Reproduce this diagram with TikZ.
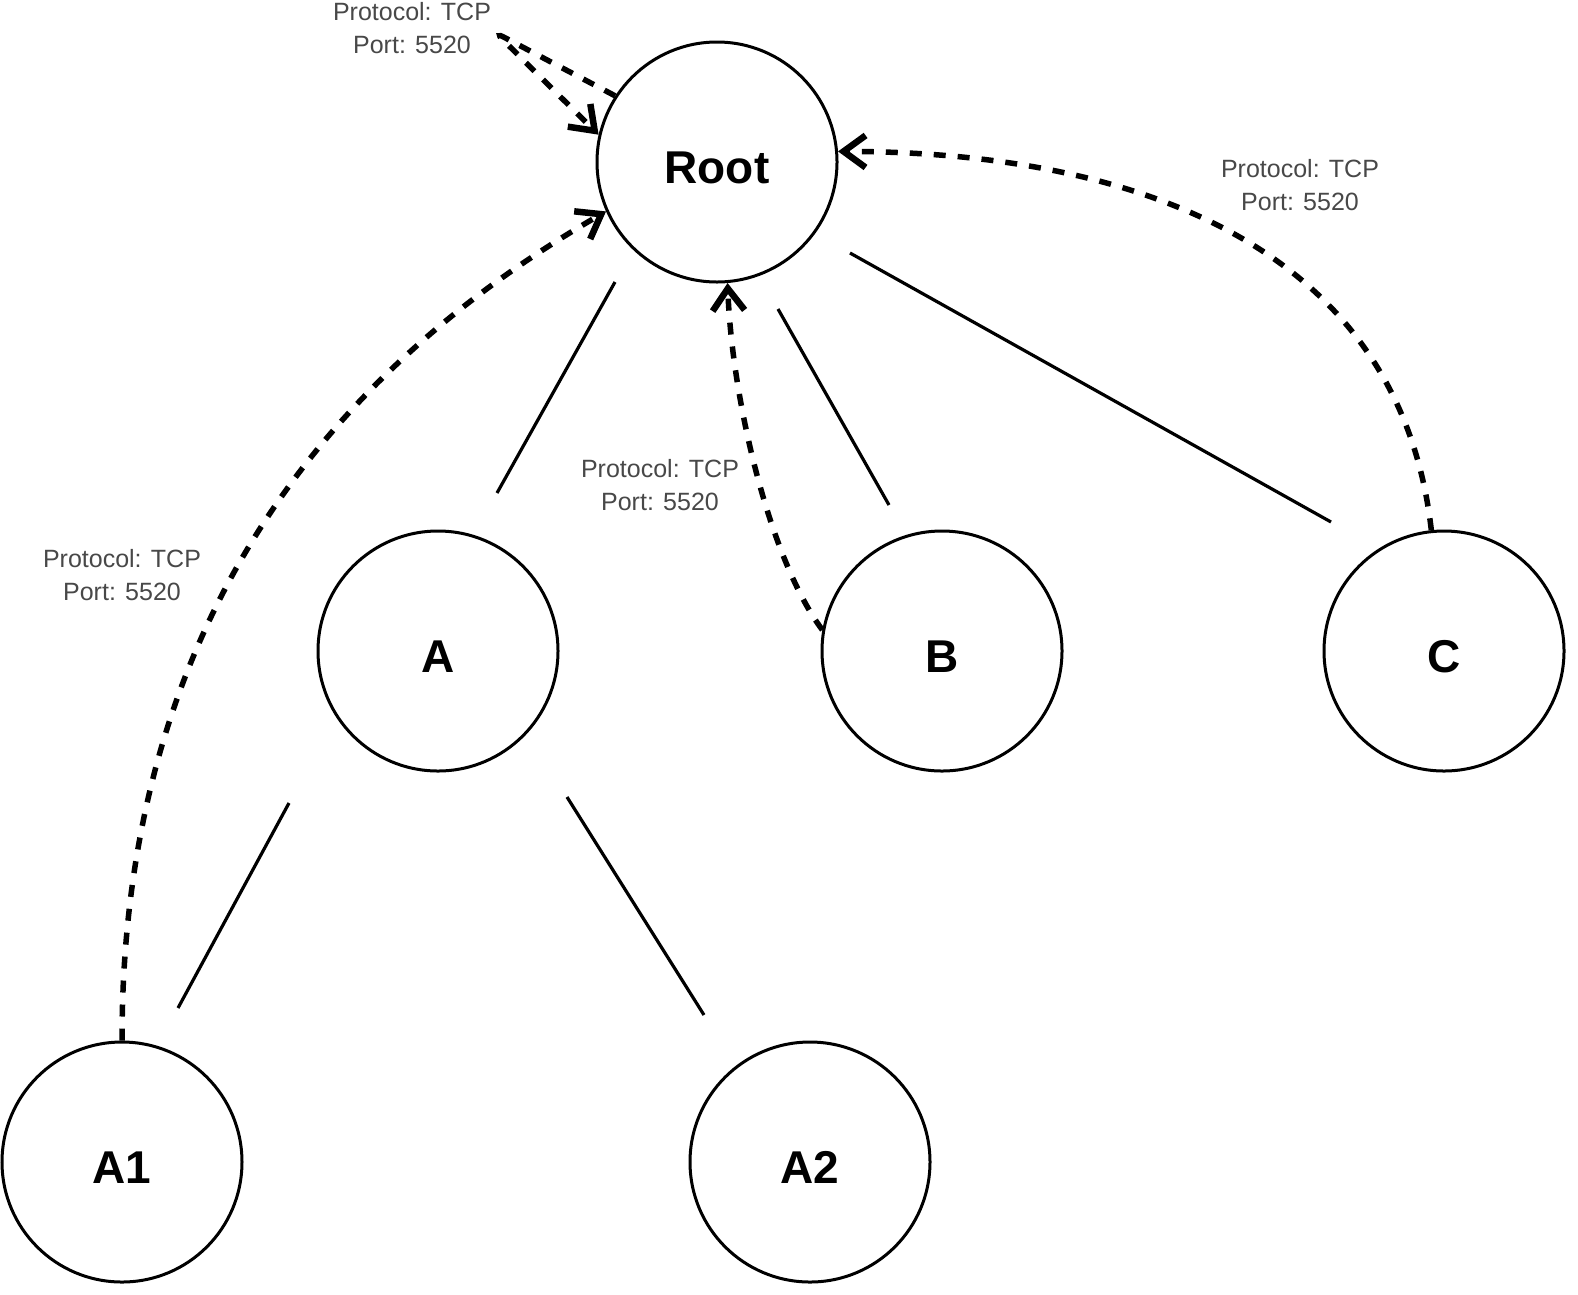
\documentclass[tikz,border=0pt]{standalone}
\usepackage{fontspec}
\setmainfont{Liberation Sans}
\usetikzlibrary{arrows.meta,calc}
\definecolor{lblgray}{RGB}{72,72,72}
\begin{document}
\begin{tikzpicture}[x=1pt,y=-1pt,
  nodecirc/.style={circle,draw,line width=3pt,minimum size=240pt,inner sep=0pt,
    text height=43pt,text depth=0pt,
    font=\fontsize{46}{54}\selectfont\bfseries},
  treeline/.style={line width=3.2pt},
  msg/.style={line width=5.5pt,dash pattern=on 12pt off 12pt,
    -{Straight Barb[length=22pt,width=32pt,line width=6.5pt]}},
  lbl/.style={align=center,text=lblgray,font=\fontsize{25}{33}\selectfont,inner sep=0pt}]
\useasboundingbox (0,0) rectangle (1578,1294);
\node[nodecirc] (Root) at (717,162) {Root};
\node[nodecirc] (A) at (438,651) {A};
\node[nodecirc] (B) at (942,651) {B};
\node[nodecirc] (C) at (1444,651) {C};
\node[nodecirc] (A1) at (122,1162) {A1};
\node[nodecirc] (A2) at (810,1162) {A2};
% tree lines
\draw[treeline] ($(Root)+(-102,120)$) -- ($(A)+(59,-158)$);
\draw[treeline] ($(Root)+(61,147)$) -- ($(B)+(-53,-146)$);
\draw[treeline] ($(Root)+(133,91)$) -- ($(C)+(-113,-129)$);
\draw[treeline] ($(A)+(-149,152)$) -- ($(A1)+(56,-154)$);
\draw[treeline] ($(A)+(129,146)$) -- ($(A2)+(-106,-147)$);
% messages
\draw[msg] (A1.north) .. controls (122,672) and (283,398) .. (Root.204);
\draw[msg] (B.170) .. controls (770,560) and (732,400) .. (Root.275);
\draw[msg] (C.96) .. controls (1400,255) and (1150,152) .. (Root.5);
\coordinate (loopturn) at (496,33);
\draw[msg,rounded corners=8pt] (Root.147) -- (loopturn) -- (Root.167);
% labels
\node[lbl] (l1) at (412,28) {Protocol: TCP\\Port: 5520};
\node[lbl] (l2) at (1300,185) {Protocol: TCP\\Port: 5520};
\node[lbl] (l3) at (660,485) {Protocol: TCP\\Port: 5520};
\node[lbl] (l4) at (122,575) {Protocol: TCP\\Port: 5520};
\end{tikzpicture}
\end{document}
